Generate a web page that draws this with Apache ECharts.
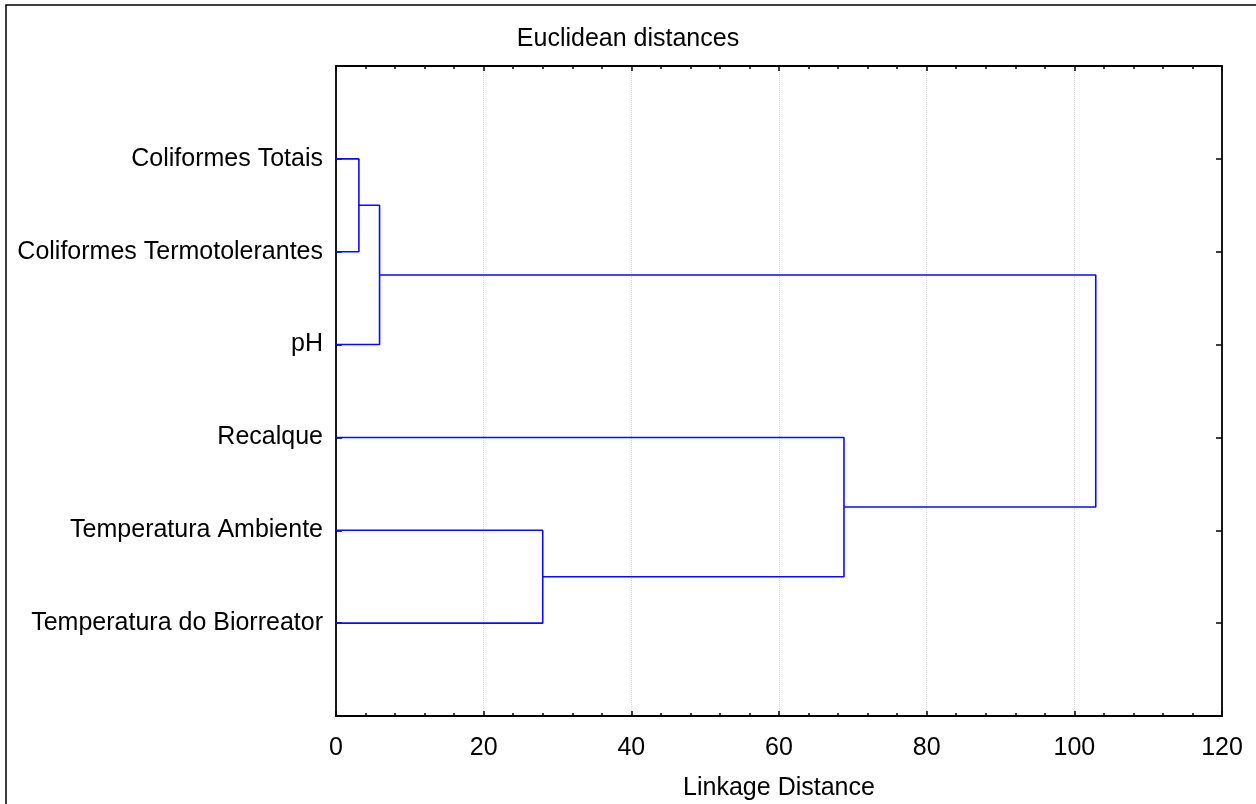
<!DOCTYPE html>
<html>
<head>
<meta charset="utf-8">
<script src="https://cdn.jsdelivr.net/npm/echarts@6/dist/echarts.min.js"></script>
<style>
html, body { margin: 0; padding: 0; background: #fff; }
#chart { width: 1256px; height: 804px; }
</style>
</head>
<body>
<div id="chart"></div>
<script>
// folhas do dendrograma (de cima para baixo)
var leaves = ['Coliformes Totais', 'Coliformes Termotolerantes', 'pH', 'Recalque', 'Temperatura Ambiente', 'Temperatura do Biorreator'];
// fusões: indices 0-5 = folhas, 6+ = clusters formados
var mergeA = [0, 6, 4, 3, 7];
var mergeB = [1, 2, 5, 8, 9];
var mergeDist = [3.1, 5.9, 28.0, 68.8, 102.9];
var xTicks = [0, 20, 40, 60, 80, 100, 120];

// posição (y) e altura (x) de cada nó
var nodeY = [], nodeX = [];
leaves.forEach(function (name, i) { nodeY.push(i + 1); nodeX.push(0); });
var links = [];
for (var i = 0; i < mergeDist.length; i++) {
    var a = mergeA[i], b = mergeB[i], h = mergeDist[i];
    links.push([[nodeX[a], nodeY[a]], [h, nodeY[a]], [h, nodeY[b]], [nodeX[b], nodeY[b]]]);
    nodeY.push((nodeY[a] + nodeY[b]) / 2);
    nodeX.push(h);
}

var font = 'Liberation Sans, Arial, sans-serif';
var fs = 25;
var chart = echarts.init(document.getElementById('chart'));

var series = links.map(function (pts) {
    return {
        type: 'line',
        data: pts,
        symbol: 'none',
        silent: true,
        animation: false,
        z: 1,
        lineStyle: { color: '#0a0aff', width: 1.6 }
    };
});

var tickStyle = { color: '#000', width: 1.5 };
var axisLine = { show: true, onZero: false, lineStyle: { color: '#000', width: 1.8 } };

var option = {
    backgroundColor: '#fff',
    animation: false,
    title: {
        text: 'Euclidean distances',
        left: 'center',
        top: 22,
        textStyle: { fontFamily: font, fontSize: fs, fontWeight: 'normal', color: '#000' }
    },
    grid: { left: 336, top: 66, right: 34, bottom: 88, containLabel: false, outerBoundsMode: 'none' },
    xAxis: [{
        type: 'value',
        min: xTicks[0],
        max: xTicks[xTicks.length - 1],
        interval: 20,
        position: 'bottom',
        name: 'Linkage Distance',
        nameLocation: 'middle',
        nameGap: 60,
        nameTextStyle: { fontFamily: font, fontSize: fs, color: '#000' },
        axisLine: axisLine,
        axisTick: { show: true, inside: true, length: 5, lineStyle: tickStyle },
        minorTick: { show: true, splitNumber: 5, length: 3, lineStyle: tickStyle },
        axisLabel: { fontFamily: font, fontSize: fs, color: '#000', margin: 20 },
        splitLine: { show: true, lineStyle: { color: '#d8d8d8', type: 'dotted', width: 1 } }
    }, {
        type: 'value',
        min: xTicks[0],
        max: xTicks[xTicks.length - 1],
        interval: 20,
        position: 'top',
        axisLine: axisLine,
        axisTick: { show: true, inside: true, length: 5, lineStyle: tickStyle },
        minorTick: { show: true, splitNumber: 5, length: 3, lineStyle: tickStyle },
        axisLabel: { show: false },
        splitLine: { show: false }
    }],
    yAxis: [{
        type: 'value',
        min: 0,
        max: leaves.length + 1,
        interval: 1,
        inverse: true,
        position: 'left',
        axisLine: axisLine,
        axisTick: { show: true, inside: true, length: 6, lineStyle: tickStyle },
        axisLabel: {
            fontFamily: font, fontSize: fs, color: '#000', margin: 13,
            formatter: function (v) { return leaves[v - 1] || ''; }
        },
        splitLine: { show: false }
    }, {
        type: 'value',
        min: 0,
        max: leaves.length + 1,
        interval: 1,
        inverse: true,
        position: 'right',
        axisLine: axisLine,
        axisTick: { show: true, inside: true, length: 6, lineStyle: tickStyle },
        axisLabel: { show: false },
        splitLine: { show: false }
    }],
    graphic: [{
        type: 'rect',
        shape: { x: 6, y: 5, width: 1400, height: 1000 },
        style: { fill: 'none', stroke: '#000', lineWidth: 1.5 },
        silent: true
    }],
    series: series
};
chart.setOption(option);
</script>
</body>
</html>
